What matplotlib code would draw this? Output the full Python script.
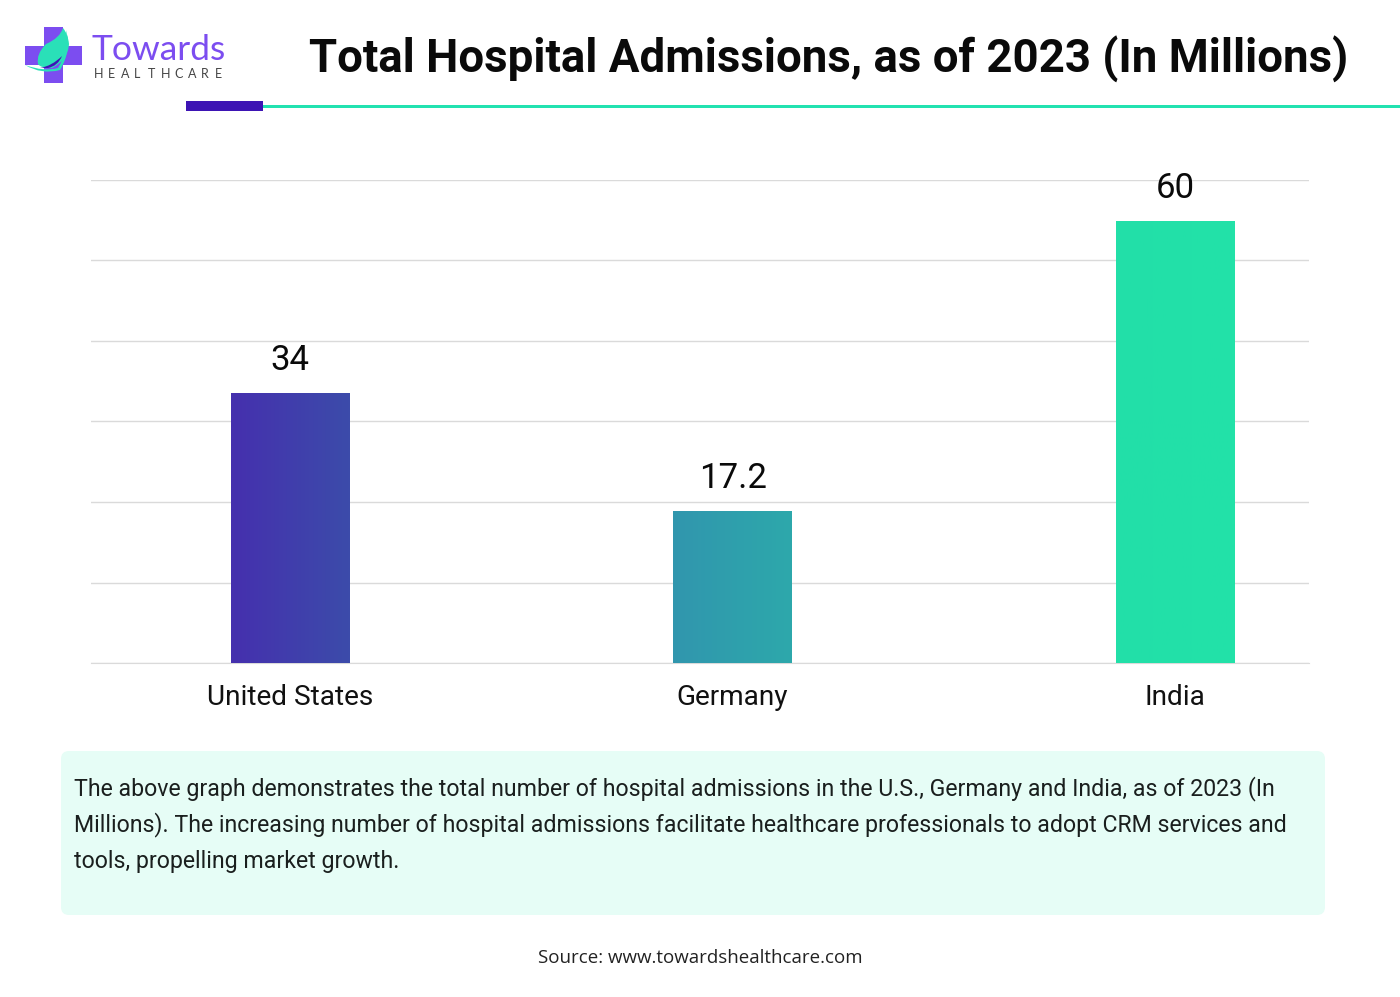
import numpy as np
import matplotlib
matplotlib.use("Agg")
import matplotlib.pyplot as plt
from matplotlib.colors import LinearSegmentedColormap
from matplotlib.patches import FancyBboxPatch, Rectangle, PathPatch
from matplotlib.path import Path

plt.rcParams['font.family'] = ['Roboto', 'DejaVu Sans']

countries = ['United States', 'Germany', 'India']
value_labels = ['34', '17.2', '60']
# bars in the source are not to scale with their labels, heights read off the gridlines
bar_heights = [36.9, 20.8, 60.45]
grid_ticks = [0, 11, 22, 33, 44, 55, 66]

title = 'Total Hospital Admissions, as of 2023 (In Millions)'
note_lines = [
    'The above graph demonstrates the total number of hospital admissions in the U.S., Germany and India, as of 2023 (In',
    'Millions). The increasing number of hospital admissions facilitate healthcare professionals to adopt CRM services and',
    'tools, propelling market growth.',
]
source = 'Source: www.towardshealthcare.com'

fig = plt.figure(figsize=(14, 9.97), dpi=100)

# page layer in pixel coords
page = fig.add_axes([0, 0, 1, 1])
page.set_xlim(0, 1400)
page.set_ylim(997, 0)
page.axis('off')

# header rule
page.add_patch(Rectangle((263, 105), 1137, 3, color='#22E2B0', lw=0))
page.add_patch(Rectangle((186, 101), 77, 10, color='#3D14B4', lw=0))

# logo
purple = '#7C4DF0'
mint = '#2AE0B8'
page.add_patch(Rectangle((44, 27), 19, 56, color=purple, lw=0))
page.add_patch(Rectangle((25, 46), 57, 19, color=purple, lw=0))
leaf = Path([(63, 28), (60, 38), (46, 44), (36, 54), (38, 64), (40, 68), (52, 68), (68, 60), (69, 44), (68, 34), (63, 28)],
            [Path.MOVETO] + [Path.CURVE3] * 10)
page.add_patch(PathPatch(leaf, facecolor=mint, lw=0))
shadow = Path([(40, 68), (52, 66), (62, 56), (58, 66), (48, 68), (40, 68)],
              [Path.MOVETO] + [Path.CURVE3] * 4 + [Path.LINETO])
page.add_patch(PathPatch(shadow, facecolor='#3D14B4', lw=0))
swoosh = Path([(25, 65), (44, 72), (58, 68), (69, 50), (66, 30), (72, 50), (60, 70), (42, 75), (25, 65)],
              [Path.MOVETO] + [Path.CURVE3] * 8)
page.add_patch(PathPatch(swoosh, facecolor=mint, lw=0))
page.text(91.5, 50, 'Towards', fontsize=25.5, color=purple, family='Lato', va='center', ha='left')
for i, ch in enumerate('HEALTHCARE'):
    page.text(94 + i * 13.4, 73.5, ch, fontsize=9, color='#444444', family='Lato', va='center', ha='left')

page.text(829, 59, title, fontsize=32.9, fontweight='bold', color='#0A0A0A', ha='center', va='center')

# note box
page.add_patch(FancyBboxPatch((67, 757), 1252, 152, boxstyle='round,pad=6,rounding_size=8',
                              facecolor='#E6FDF6', edgecolor='none'))
for i, line in enumerate(note_lines):
    page.text(74, 789 + i * 36, line, fontsize=16.65, color='#1A1F1E', ha='left', va='center')

page.text(700, 958, source, fontsize=13.5, color='#222222', family='Open Sans', ha='center', va='center')

# chart
ax = fig.add_axes([91 / 1400, 1 - 663 / 997, 1218 / 1400, 483 / 997])
ax.patch.set_alpha(0)
x = np.arange(len(countries))
bars = ax.bar(x, bar_heights, width=0.268, color='none', zorder=3)
ax.set_yticks(grid_ticks)
ax.tick_params(axis='y', length=0, labelleft=False)
ax.tick_params(axis='x', length=0, pad=15)
ax.set_xticks(x)
ax.set_xticklabels(countries, fontsize=20.2, color='#111111')
ax.grid(axis='y', color='#DADADA', lw=1, zorder=0)
ax.set_axisbelow(True)
for s in ['top', 'left', 'right']:
    ax.spines[s].set_visible(False)
ax.spines['bottom'].set_color('#DADADA')

# gradient across all bars, clipped to each one
cmap = LinearSegmentedColormap.from_list('bars', [
    (0, '#4530AE'), (0.118, '#3C4CAA'), (0.44, '#3196AE'),
    (0.558, '#2DA8AB'), (0.882, '#22DFA9'), (1, '#22E2A8')])
grad = np.linspace(0, 1, 512).reshape(1, -1)
x0 = bars[0].get_x()
x1 = bars[-1].get_x() + bars[-1].get_width()
for bar in bars:
    im = ax.imshow(grad, extent=(x0, x1, 0, 66), aspect='auto', cmap=cmap, zorder=3)
    im.set_clip_path(bar)
ax.set_xlim(-0.45, 2.303)
ax.set_ylim(0, 66)

for xi, h, lab in zip(x, bar_heights, value_labels):
    ax.annotate(lab, (xi, h), xytext=(0, 16.5), textcoords='offset points', fontsize=25,
                ha='center', va='baseline', color='#0A0A0A', zorder=4)

fig.savefig('out.png', dpi=100, facecolor='white')
